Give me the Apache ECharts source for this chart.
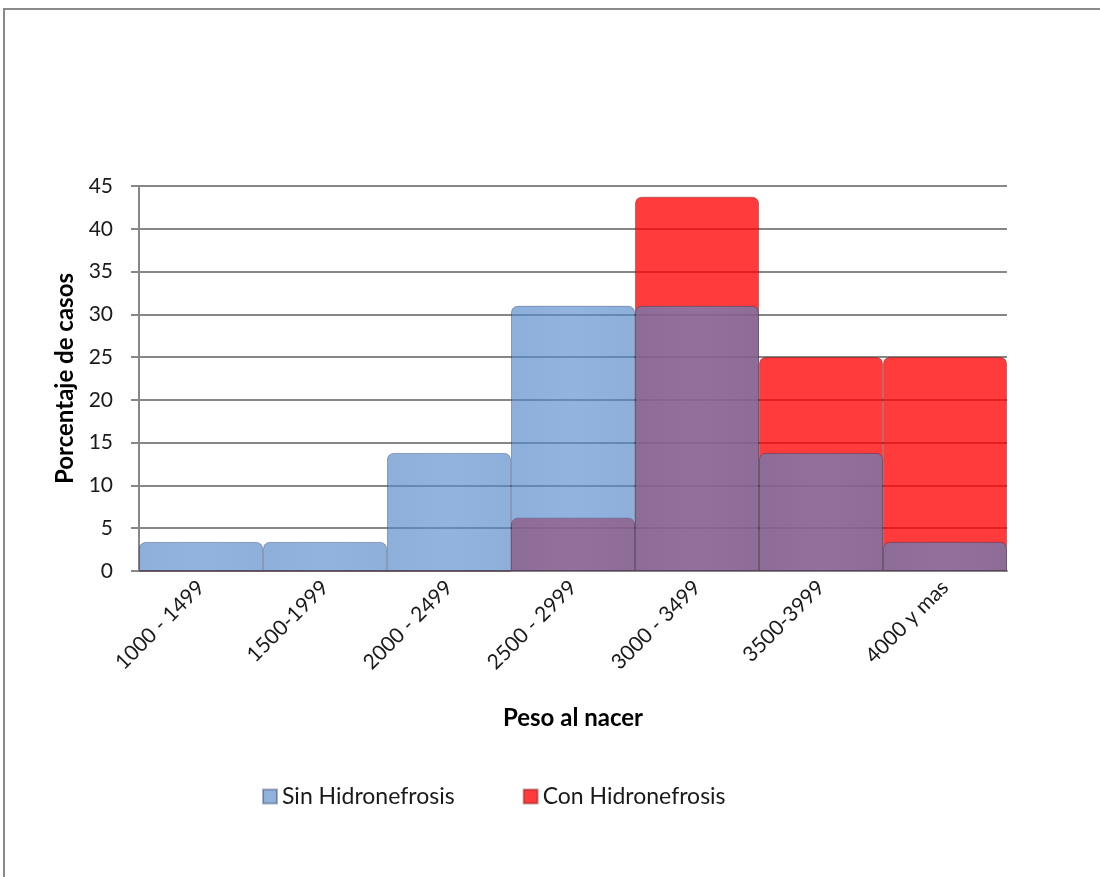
<!DOCTYPE html>
<html>
<head>
<meta charset="utf-8">
<script src="https://cdn.jsdelivr.net/npm/echarts@6/dist/echarts.min.js"></script>
<style>
  html, body { margin: 0; padding: 0; background: #fff; }
  #chart { width: 1100px; height: 877px; }
</style>
</head>
<body>
<div id="chart"></div>
<script>
// Birth weight ranges (grams)
const categories = ['1000 - 1499', '1500-1999', '2000 - 2499', '2500 - 2999', '3000 - 3499', '3500-3999', '4000 y mas'];
// Percentage of cases without hydronephrosis
const sinHidronefrosis = [3.4, 3.4, 13.8, 31.0, 31.0, 13.8, 3.4];
// Percentage of cases with hydronephrosis
const conHidronefrosis = [0, 0, 0, 6.25, 43.75, 25, 25];
const yTicks = { min: 0, max: 45, interval: 5 };

const FONT = 'Lato, "Open Sans", sans-serif';
const chart = echarts.init(document.getElementById('chart'), null, { renderer: 'canvas' });

// Faint vertical banding across each bar, slightly lighter towards the middle
function barFill(r, g, b, a) {
  return new echarts.graphic.LinearGradient(0, 0, 1, 0, [
    { offset: 0, color: `rgba(${r - 4},${g - 4},${b - 4},${a})` },
    { offset: 0.5, color: `rgba(${r + 3},${g + 3},${b + 3},${a})` },
    { offset: 1, color: `rgba(${r - 4},${g - 4},${b - 4},${a})` }
  ]);
}

chart.setOption({
  backgroundColor: '#ffffff',
  animation: false,
  graphic: [{
    type: 'rect',
    shape: { x: 4, y: 9, width: 1200, height: 1000 },
    style: { fill: 'none', stroke: '#8a8a8a', lineWidth: 2 },
    silent: true
  }],
  grid: { left: 139, top: 186, right: 93, bottom: 306 },
  legend: {
    data: ['Sin Hidronefrosis', 'Con Hidronefrosis'],
    left: 257,
    top: 780,
    itemWidth: 14,
    itemHeight: 14,
    itemGap: 68,
    icon: 'rect',
    textStyle: { fontFamily: FONT, fontSize: 23, color: '#1a1a1a', padding: [0, 0, 0, 0] }
  },
  xAxis: {
    type: 'category',
    data: categories,
    name: 'Peso al nacer',
    nameLocation: 'middle',
    nameGap: 135,
    nameTextStyle: { fontFamily: FONT, fontSize: 24, fontWeight: 'bold', color: '#000' },
    axisLine: { lineStyle: { color: '#878787', width: 2 } },
    axisTick: { show: false },
    axisLabel: {
      rotate: 45,
      margin: 13,
      interval: 0,
      fontFamily: FONT,
      fontSize: 21,
      color: '#1a1a1a'
    },
    splitLine: { show: false }
  },
  yAxis: {
    type: 'value',
    min: yTicks.min,
    max: yTicks.max,
    interval: yTicks.interval,
    name: 'Porcentaje de casos',
    nameLocation: 'middle',
    nameGap: 62,
    nameTextStyle: { fontFamily: FONT, fontSize: 24, fontWeight: 'bold', color: '#000' },
    axisLine: { show: true, lineStyle: { color: '#878787', width: 2 } },
    axisTick: { show: true, length: 8, lineStyle: { color: '#878787', width: 2 } },
    axisLabel: { margin: 26, fontFamily: FONT, fontSize: 21, color: '#1a1a1a' },
    splitLine: { show: true, lineStyle: { color: '#878787', width: 2 } }
  },
  series: [
    {
      name: 'Con Hidronefrosis',
      type: 'bar',
      data: conHidronefrosis,
      barCategoryGap: '0%',
      barGap: '-100%',
      z: 2,
      itemStyle: {
        color: 'rgba(255,0,0,0.77)',
        borderColor: 'rgba(90,0,0,0.35)',
        borderWidth: 1,
        borderRadius: [6, 6, 0, 0]
      }
    },
    {
      name: 'Sin Hidronefrosis',
      type: 'bar',
      data: sinHidronefrosis,
      barCategoryGap: '0%',
      barGap: '-100%',
      z: 3,
      itemStyle: {
        color: barFill(86, 138, 202, 0.66),
        borderColor: 'rgba(20,40,80,0.35)',
        borderWidth: 1,
        borderRadius: [6, 6, 0, 0]
      }
    }
  ]
});
</script>
</body>
</html>
